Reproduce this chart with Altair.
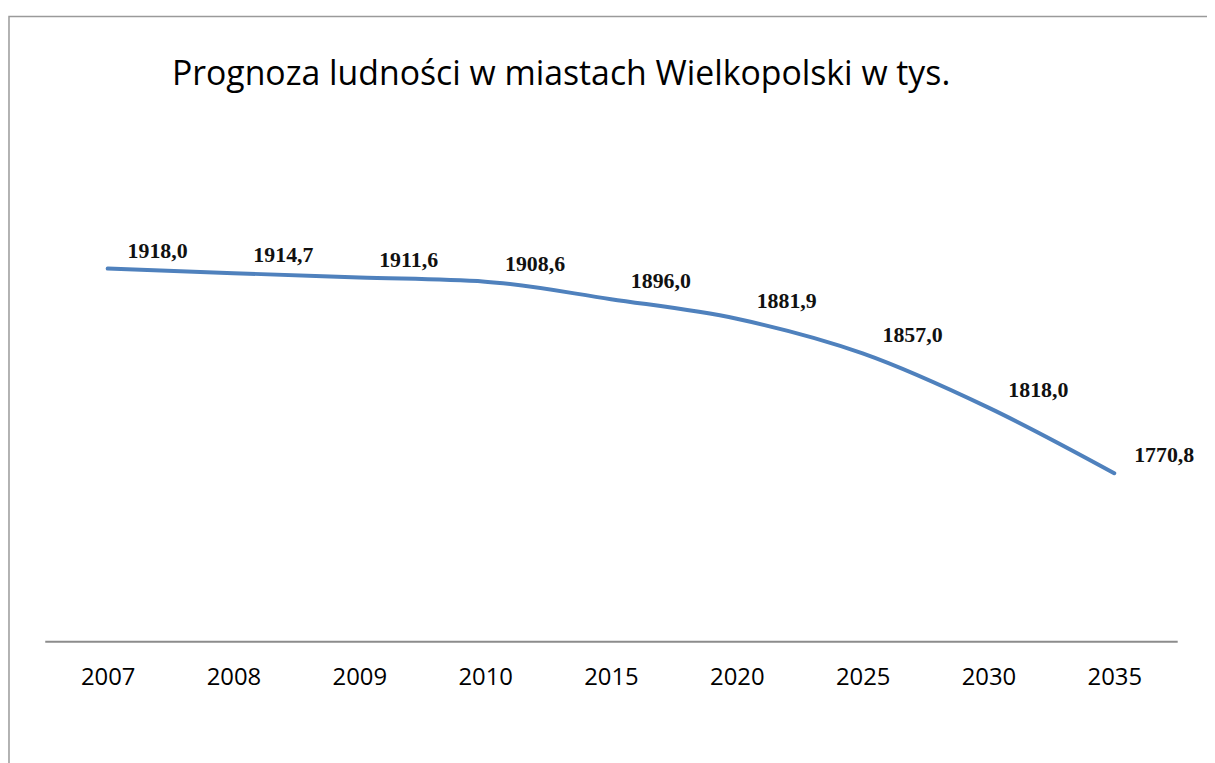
import altair as alt
import pandas as pd

years = ["2007", "2008", "2009", "2010", "2015", "2020", "2025", "2030", "2035"]
population = [1918.0, 1914.7, 1911.6, 1908.6, 1896.0, 1881.9, 1857.0, 1818.0, 1770.8]
labels = ["1918,0", "1914,7", "1911,6", "1908,6", "1896,0", "1881,9", "1857,0", "1818,0", "1770,8"]
title_text = "Prognoza ludności w miastach Wielkopolski w tys."

df = pd.DataFrame({"rok": years, "ludnosc": population, "etykieta": labels})

W, H = 1140, 420
PAD_L, PAD_T = 37, 215
PAD_R = 1207 - PAD_L - W
PAD_B = 755 - PAD_T - H

x_enc = alt.X(
    "rok:O",
    sort=years,
    scale=alt.Scale(type="point", padding=0.5),
    axis=alt.Axis(
        title=None,
        labelAngle=0,
        labelFont="Open Sans",
        labelFontSize=24,
        labelColor="#000000",
        labelPadding=36,
        labelBaseline="middle",
        ticks=False,
        tickSize=0,
        domainColor="#8c8c8c",
        domainWidth=2,
        grid=False,
    ),
)
y_enc = alt.Y(
    "ludnosc:Q",
    scale=alt.Scale(domain=[1650, 1950], zero=False, nice=False),
    axis=None,
)

line = alt.Chart(df).mark_line(
    color="#4F81BD", strokeWidth=4, interpolate="monotone", strokeCap="round"
).encode(x=x_enc, y=y_enc)

text = alt.Chart(df).mark_text(
    align="left", baseline="middle", dx=20, dy=-18,
    font="Liberation Serif", fontSize=22, fontWeight="bold", color="#111111",
).encode(x=x_enc, y=y_enc, text="etykieta:N")

title_df = pd.DataFrame({"t": [title_text]})
title = alt.Chart(title_df).mark_text(
    align="left", baseline="alphabetic", font="Open Sans", fontSize=34,
    color="#000000",
).encode(x=alt.value(128), y=alt.value(-140), text="t:N")

frame = alt.Chart(title_df).mark_rect(
    fill=None, stroke="#9a9a9a", strokeWidth=1.5
).encode(x=alt.value(-36), x2=alt.value(W + 200), y=alt.value(-209), y2=alt.value(H + 300))

chart = alt.layer(frame, line, text, title).properties(
    width=W,
    height=H,
    padding={"left": PAD_L, "top": PAD_T, "right": PAD_R, "bottom": PAD_B},
    autosize=alt.AutoSizeParams(type="none"),
).configure(background="#ffffff").configure_view(stroke=None, strokeWidth=0)

chart.save("out.html", embed_options={"renderer": "svg", "actions": False})
